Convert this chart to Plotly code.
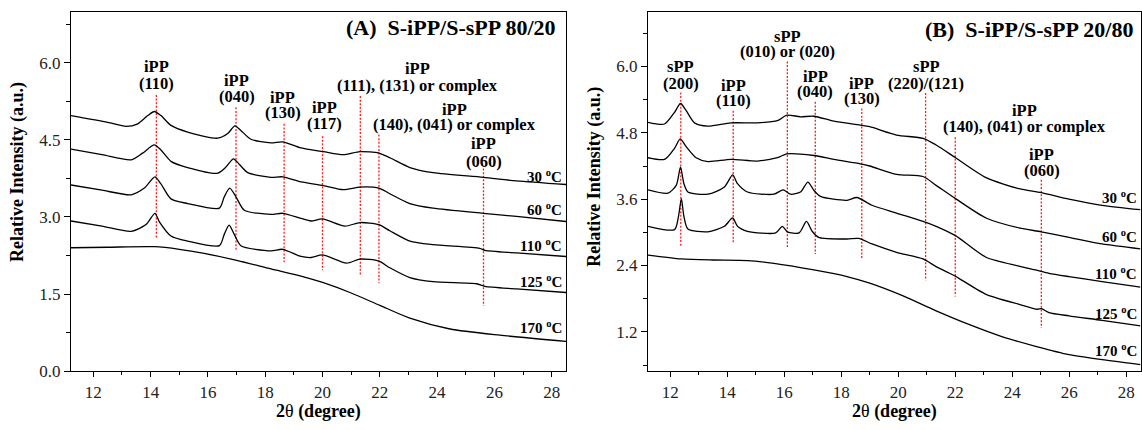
import plotly.graph_objects as go

FONT = "Liberation Serif"

# ---------------- Panel A : S-iPP/S-sPP 80/20 ----------------
A30_x = [11.22, 12.5, 13.14, 13.55, 13.9, 14.13, 14.36, 14.71, 15.29, 16.34, 16.69, 16.94, 17.15, 17.5, 18.2, 18.61, 19.25, 20.03, 20.72, 21.31, 21.97, 22.35, 23.05, 23.86, 25.61, 26.77, 28.5]
A30_y = [4.97, 4.84, 4.76, 4.81, 4.97, 5.05, 4.97, 4.78, 4.65, 4.53, 4.62, 4.77, 4.68, 4.51, 4.44, 4.46, 4.34, 4.27, 4.21, 4.27, 4.24, 4.15, 3.96, 3.86, 3.77, 3.70, 3.63]

A60_x = [11.22, 12.3, 13.32, 13.72, 14.13, 14.36, 14.71, 15.29, 16.34, 16.63, 16.89, 17.1, 17.39, 18.2, 18.61, 19.25, 20.03, 20.72, 21.31, 21.97, 22.35, 23.05, 23.86, 25.61, 26.77, 28.5]
A60_y = [4.32, 4.21, 4.11, 4.24, 4.40, 4.30, 4.08, 3.96, 3.85, 3.97, 4.13, 4.02, 3.86, 3.77, 3.78, 3.68, 3.61, 3.53, 3.58, 3.56, 3.45, 3.26, 3.17, 3.07, 3.01, 2.91]

A110_x = [11.22, 12.3, 13.32, 13.78, 14.15, 14.36, 14.71, 15.29, 16.4, 16.57, 16.76, 16.98, 17.27, 18.2, 18.61, 19.25, 19.6, 20.0, 20.78, 21.31, 21.97, 22.35, 23.05, 23.86, 25.49, 25.67, 26.77, 28.5]
A110_y = [3.62, 3.52, 3.43, 3.56, 3.78, 3.64, 3.35, 3.26, 3.17, 3.39, 3.56, 3.39, 3.13, 3.05, 3.07, 2.97, 2.92, 2.96, 2.82, 2.89, 2.85, 2.73, 2.53, 2.46, 2.39, 2.35, 2.30, 2.23]

A125_x = [11.22, 12.3, 13.32, 13.84, 14.15, 14.3, 14.71, 15.29, 16.4, 16.57, 16.74, 16.92, 17.15, 18.2, 18.61, 19.25, 19.6, 20.0, 20.84, 21.31, 21.97, 22.35, 23.05, 23.86, 25.38, 25.67, 26.77, 28.5]
A125_y = [2.92, 2.82, 2.72, 2.85, 3.07, 2.91, 2.63, 2.53, 2.44, 2.66, 2.84, 2.66, 2.44, 2.34, 2.37, 2.23, 2.21, 2.26, 2.10, 2.18, 2.14, 2.01, 1.82, 1.74, 1.70, 1.65, 1.60, 1.53]

A170_x = [11.22, 12.5, 14.13, 15.0, 15.87, 17.04, 18.2, 19.25, 20.03, 21.0, 22.0, 23.05, 24.45, 26.19, 28.5]
A170_y = [2.40, 2.41, 2.42, 2.37, 2.29, 2.15, 1.99, 1.85, 1.72, 1.52, 1.28, 1.03, 0.82, 0.70, 0.58]

A_peak_x = [14.2, 16.98, 18.66, 20.0, 21.32, 21.97, 25.62]
A_peak_top = [5.37, 5.13, 4.81, 4.57, 5.35, 4.60, 3.94]
A_peak_bot = [2.60, 2.34, 2.12, 1.96, 1.85, 1.71, 1.27]
A_phase = ["iPP", "iPP", "iPP", "iPP", "iPP", "iPP", "iPP"]
A_hkl = ["(110)", "(040)", "(130)", "(117)", "(111), (131) or complex", "(140), (041) or complex", "(060)"]

# ---------------- Panel B : S-iPP/S-sPP 20/80 ----------------
B30_x = [11.22, 11.8, 12.15, 12.36, 12.56, 12.85, 13.32, 14.13, 15.06, 15.76, 16.09, 16.57, 17.04, 17.74, 18.67, 19.0, 19.94, 20.87, 21.33, 22.01, 23.08, 24.24, 25.02, 25.99, 27.15, 28.5]
B30_y = [4.99, 4.96, 5.17, 5.33, 5.20, 4.98, 4.92, 4.98, 4.98, 5.02, 5.12, 5.09, 5.10, 5.01, 4.94, 4.91, 4.76, 4.70, 4.58, 4.35, 3.99, 3.79, 3.72, 3.60, 3.49, 3.41]

B60_x = [11.22, 11.8, 12.15, 12.35, 12.56, 12.91, 13.32, 14.13, 15.06, 15.76, 16.09, 17.04, 17.74, 18.67, 19.0, 19.94, 20.87, 21.33, 22.01, 23.08, 24.24, 25.02, 25.99, 27.15, 28.5]
B60_y = [4.35, 4.32, 4.52, 4.69, 4.55, 4.35, 4.28, 4.32, 4.29, 4.35, 4.42, 4.39, 4.32, 4.24, 4.20, 4.05, 4.01, 3.85, 3.61, 3.26, 3.08, 3.01, 2.91, 2.79, 2.70]

B110_x = [11.22, 11.92, 12.21, 12.36, 12.48, 12.62, 13.32, 13.9, 14.19, 14.36, 14.71, 15.64, 15.96, 16.22, 16.57, 16.83, 17.04, 17.27, 18.2, 18.55, 19.08, 19.94, 20.87, 21.33, 22.01, 23.08, 24.24, 24.82, 25.29, 25.99, 27.15, 28.5]
B110_y = [3.77, 3.71, 3.85, 4.18, 3.88, 3.73, 3.69, 3.82, 4.04, 3.88, 3.73, 3.69, 3.77, 3.69, 3.73, 3.91, 3.76, 3.65, 3.58, 3.63, 3.49, 3.35, 3.20, 3.11, 2.94, 2.55, 2.39, 2.32, 2.26, 2.20, 2.11, 2.01]

B125_x = [11.22, 12.15, 12.29, 12.39, 12.48, 12.62, 13.32, 13.9, 14.19, 14.36, 14.71, 15.7, 15.93, 16.11, 16.52, 16.78, 16.98, 17.21, 18.2, 18.61, 19.08, 19.94, 20.87, 21.33, 21.8, 22.03, 23.08, 24.24, 24.88, 25.02, 25.29, 25.99, 27.15, 28.5]
B125_y = [3.11, 3.05, 3.29, 3.61, 3.29, 3.06, 3.01, 3.11, 3.26, 3.11, 3.02, 2.99, 3.11, 3.01, 2.99, 3.20, 3.02, 2.91, 2.88, 2.89, 2.79, 2.64, 2.52, 2.38, 2.26, 2.20, 1.88, 1.70, 1.61, 1.62, 1.55, 1.49, 1.41, 1.31]

B170_x = [11.22, 12.39, 13.5, 14.71, 15.64, 17.04, 18.2, 19.0, 20.17, 21.33, 22.5, 23.66, 24.82, 25.99, 27.15, 28.5]
B170_y = [2.59, 2.52, 2.50, 2.49, 2.44, 2.32, 2.20, 2.08, 1.85, 1.58, 1.33, 1.11, 0.94, 0.79, 0.70, 0.61]

B_peak_x = [12.37, 14.21, 16.11, 17.09, 18.72, 20.96, 22.0, 25.02]
B_peak_top = [5.53, 5.20, 6.09, 5.36, 5.24, 5.52, 4.72, 3.95]
B_peak_bot = [2.76, 2.82, 2.72, 2.61, 2.51, 2.13, 1.84, 1.27]
B_phase = ["sPP", "iPP", "sPP", "iPP", "iPP", "sPP", "iPP", "iPP"]
B_hkl = ["(200)", "(110)", "(010) or (020)", "(040)", "(130)", "(220)/(121)", "(140), (041) or complex", "(060)"]

temps = ["30", "60", "110", "125", "170"]
x_ticks = [12, 14, 16, 18, 20, 22, 24, 26, 28]

# label placement (layout): (x centre, y of first line, y of second line)
A_label_pos = [(14.2, 5.92, 5.60), (17.0, 5.66, 5.35), (18.62, 5.32, 5.03), (20.06, 5.13, 4.81),
               (23.33, 5.89, 5.56), (24.6, 5.09, 4.79), (25.63, 4.43, 4.08)]
B_label_pos = [(12.37, 6.00, 5.70), (14.21, 5.66, 5.38), (16.12, 6.54, 6.27), (17.09, 5.82, 5.54),
               (18.72, 5.70, 5.42), (20.98, 6.00, 5.70), (24.42, 5.20, 4.91), (25.03, 4.41, 4.11)]
A_temp_y = [3.80, 3.15, 2.45, 1.75, 0.85]
B_temp_y = [3.64, 2.93, 2.26, 1.55, 0.88]

fig = go.Figure()

def add_curves(xs, ys, xa, ya):
    for x, y in zip(xs, ys):
        fig.add_trace(go.Scatter(x=x, y=y, mode="lines", xaxis=xa, yaxis=ya,
                                 line=dict(color="black", width=1.3, shape="spline", smoothing=0.7),
                                 hoverinfo="skip", showlegend=False))

def add_peak_lines(px, top, bot, xa, ya):
    lx, ly = [], []
    for p, t, b in zip(px, top, bot):
        lx += [p, p, None]
        ly += [t, b, None]
    fig.add_trace(go.Scatter(x=lx, y=ly, mode="lines", xaxis=xa, yaxis=ya,
                             line=dict(color="#ff1a1a", width=1.3, dash="2px,1.6px"),
                             hoverinfo="skip", showlegend=False))

add_peak_lines(A_peak_x, A_peak_top, A_peak_bot, "x", "y")
add_peak_lines(B_peak_x, B_peak_top, B_peak_bot, "x2", "y2")
add_curves([A30_x, A60_x, A110_x, A125_x, A170_x], [A30_y, A60_y, A110_y, A125_y, A170_y], "x", "y")
add_curves([B30_x, B60_x, B110_x, B125_x, B170_x], [B30_y, B60_y, B110_y, B125_y, B170_y], "x2", "y2")

ann = []
LBL = dict(family=FONT, size=16.5, color="black")

def peak_labels(phases, hkls, pos, xr, yr):
    for ph, hk, (x, y1, y2) in zip(phases, hkls, pos):
        ann.append(dict(x=x, y=y1, xref=xr, yref=yr, text="<b>%s</b>" % ph, showarrow=False,
                        xanchor="center", yanchor="middle", font=LBL))
        ann.append(dict(x=x, y=y2, xref=xr, yref=yr, text="<b>%s</b>" % hk, showarrow=False,
                        xanchor="center", yanchor="middle", font=LBL))

peak_labels(A_phase, A_hkl, A_label_pos, "x", "y")
peak_labels(B_phase, B_hkl, B_label_pos, "x2", "y2")

for t, ya in zip(temps, A_temp_y):
    ann.append(dict(x=28.43, y=ya, xref="x", yref="y", text="<b>%s <sup>o</sup>C</b>" % t,
                    showarrow=False, xanchor="right", yanchor="middle",
                    font=dict(family=FONT, size=15, color="black")))
for t, yb in zip(temps, B_temp_y):
    ann.append(dict(x=28.45, y=yb, xref="x2", yref="y2", text="<b>%s <sup>o</sup>C</b>" % t,
                    showarrow=False, xanchor="right", yanchor="middle",
                    font=dict(family=FONT, size=15, color="black")))

ann.append(dict(x=28.22, y=6.68, xref="x", yref="y", text="<b>(A)\u00a0\u00a0S-iPP/S-sPP 80/20</b>",
                showarrow=False, xanchor="right", yanchor="middle", font=dict(family=FONT, size=22, color="black")))
ann.append(dict(x=28.31, y=6.67, xref="x2", yref="y2", text="<b>(B)\u00a0\u00a0S-iPP/S-sPP 20/80</b>",
                showarrow=False, xanchor="right", yanchor="middle", font=dict(family=FONT, size=22, color="black")))

TITLE = dict(family=FONT, size=18, color="black")
ann.append(dict(x=18 / 1142, y=1 - 176 / 430, xref="paper", yref="paper", text="<b>Relative Intensity (a.u.)</b>",
                textangle=-90, showarrow=False, xanchor="center", yanchor="middle", font=TITLE))
ann.append(dict(x=595 / 1142, y=1 - 181 / 430, xref="paper", yref="paper", text="<b>Relative Intensity (a.u.)</b>",
                textangle=-90, showarrow=False, xanchor="center", yanchor="middle", font=TITLE))
ann.append(dict(x=318.5 / 1142, y=1 - 421 / 430, xref="paper", yref="paper", text="<b>2</b>θ<b> (degree)</b>",
                showarrow=False, xanchor="center", yanchor="middle", font=TITLE))
ann.append(dict(x=894.7 / 1142, y=1 - 421 / 430, xref="paper", yref="paper", text="<b>2</b>θ<b> (degree)</b>",
                showarrow=False, xanchor="center", yanchor="middle", font=TITLE))

def xax(domain, anchor):
    return dict(domain=domain, anchor=anchor, range=[11.22, 28.5], tickmode="array", tickvals=x_ticks,
                ticks="outside", ticklen=5, tickwidth=1.3, tickcolor="black",
                showline=True, linewidth=1.4, linecolor="black", mirror=True,
                showgrid=False, zeroline=False,
                minor=dict(dtick=1, tick0=0, ticks="outside", ticklen=3, tickwidth=1.3, tickcolor="black", showgrid=False),
                tickfont=dict(family=FONT, size=17, color="#222"))

def yax(domain, anchor, rng, dt):
    return dict(domain=domain, anchor=anchor, range=rng, tick0=0, dtick=dt, tickformat=".1f",
                ticks="outside", ticklen=6, tickwidth=1.3, tickcolor="black",
                showline=True, linewidth=1.4, linecolor="black", mirror=True,
                showgrid=False, zeroline=False,
                minor=dict(dtick=dt / 2, tick0=0, ticks="outside", ticklen=4, tickwidth=1.3, tickcolor="black", showgrid=False),
                tickfont=dict(family=FONT, size=17, color="#222"))

ydom = [1 - 380 / 430, 1 - 12 / 430]
fig.update_layout(
    width=1142, height=430, margin=dict(l=0, r=0, t=0, b=0),
    paper_bgcolor="white", plot_bgcolor="white", showlegend=False,
    font=dict(family=FONT, color="black"),
    xaxis=xax([71 / 1142, 566 / 1142], "y"),
    yaxis=yax(ydom, "x", [0, 6.99], 1.5),
    xaxis2=xax([648 / 1142, 1140.5 / 1142], "y2"),
    yaxis2=yax(ydom, "x2", [0.49, 6.99], 1.2),
    annotations=ann,
)

fig.write_html("out.html", config={"displayModeBar": False},
               post_script="document.body.style.margin='0';document.body.style.overflow='hidden';")
